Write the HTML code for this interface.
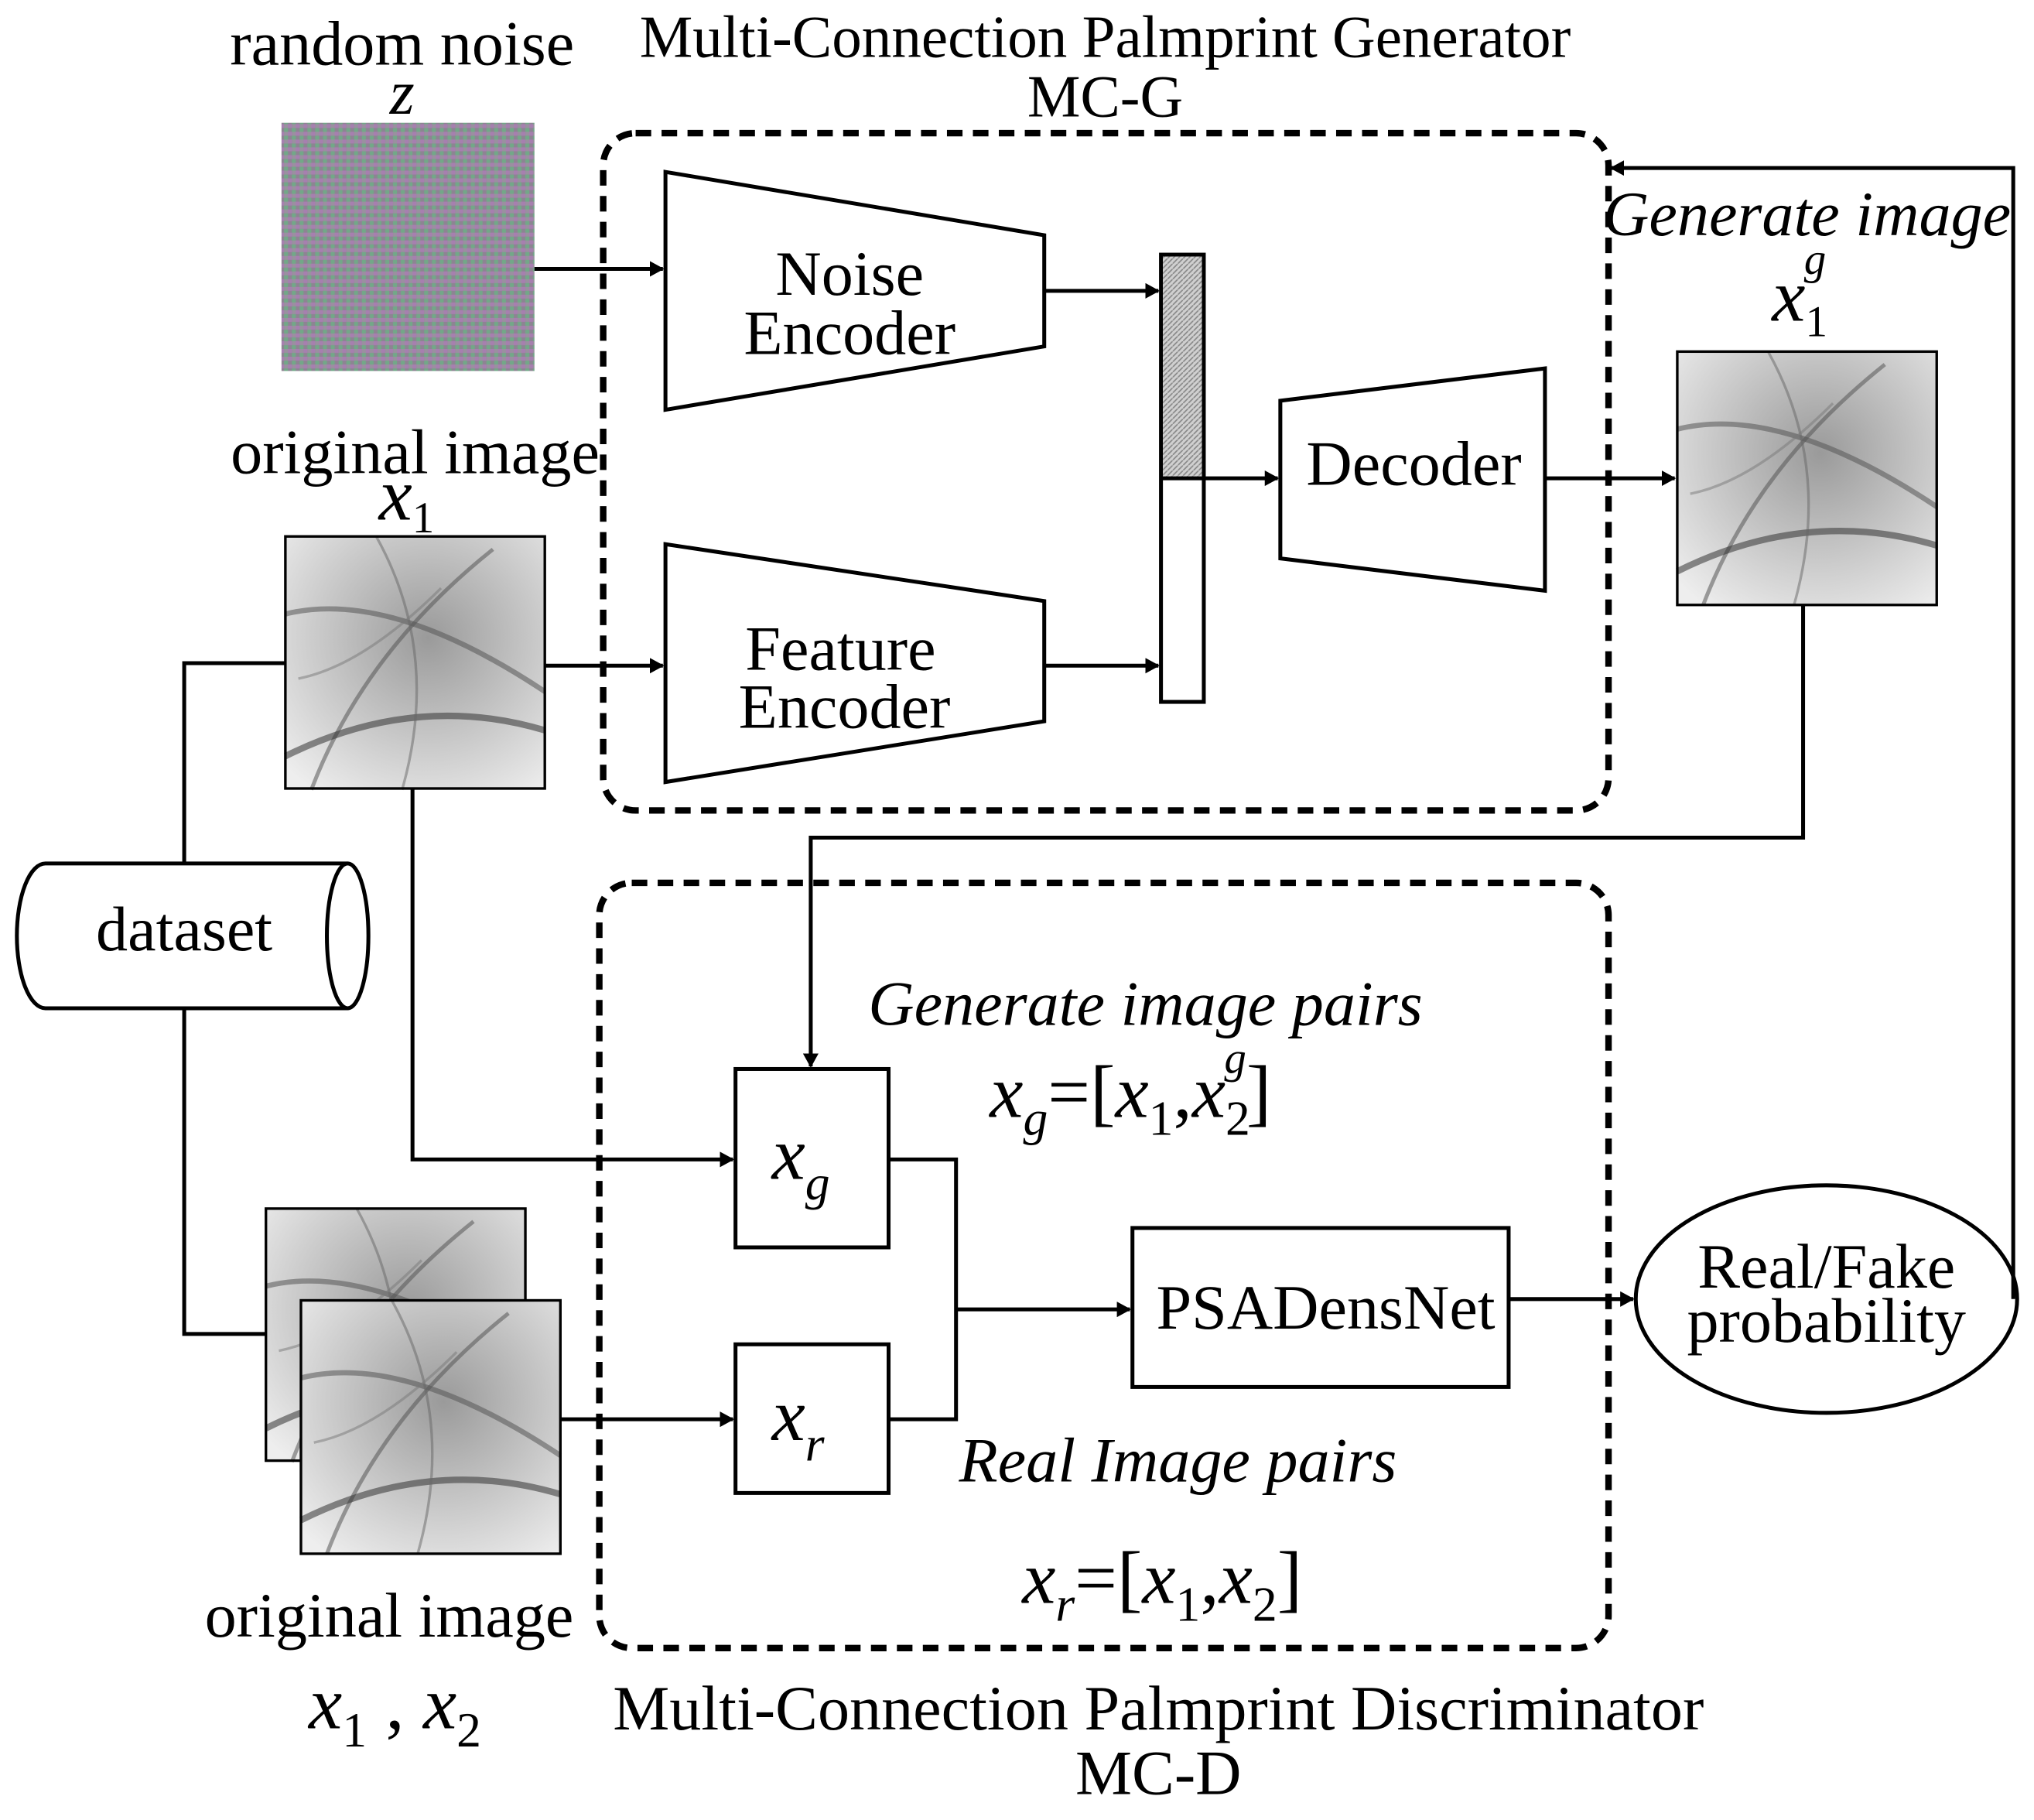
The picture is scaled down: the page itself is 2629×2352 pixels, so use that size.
<!DOCTYPE html>
<html><head><meta charset="utf-8"><style>
html,body{margin:0;padding:0;background:#fff;}
svg{display:block;}
text{font-family:"Liberation Serif",serif;fill:#000;}
</style></head><body>
<svg width="2629" height="2352" viewBox="0 0 1568 1408" preserveAspectRatio="none" xmlns="http://www.w3.org/2000/svg">
<defs>
<marker id="a" markerWidth="12" markerHeight="12" refX="10" refY="6" orient="auto" markerUnits="userSpaceOnUse"><path d="M0,0 L11,6 L0,12 Z" fill="#000"/></marker>
<pattern id="noise" width="6" height="6" patternUnits="userSpaceOnUse">
<rect width="6" height="6" fill="#8c8592"/><rect width="3" height="3" fill="#a77fb0"/><rect x="3" y="3" width="3" height="3" fill="#72a888"/><rect x="3" y="0" width="3" height="3" fill="#9a90a0"/>
</pattern>
<pattern id="hatch" width="4" height="4" patternUnits="userSpaceOnUse"><rect width="4" height="4" fill="#d0d0d0"/><path d="M0,4 L4,0" stroke="#888" stroke-width="1"/></pattern>
<radialGradient id="palm" cx="55%" cy="40%" r="75%"><stop offset="0" stop-color="#9a9a9a"/><stop offset="0.5" stop-color="#c4c4c4"/><stop offset="1" stop-color="#eeeeee"/></radialGradient>
<g id="palmimg">
<rect width="200" height="196" fill="url(#palm)"/>
<path d="M0,60 Q80,40 200,120" stroke="#555" stroke-width="4" fill="none" opacity=".55"/>
<path d="M20,196 Q60,90 160,10" stroke="#555" stroke-width="3" fill="none" opacity=".55"/>
<path d="M0,170 Q100,120 200,150" stroke="#333" stroke-width="5" fill="none" opacity=".55"/>
<path d="M70,0 Q120,90 90,196" stroke="#666" stroke-width="2" fill="none" opacity=".5"/>
<path d="M10,110 Q60,100 120,40" stroke="#777" stroke-width="2" fill="none" opacity=".5"/>
</g>
</defs>
<rect x="217" y="95" width="195" height="192" fill="url(#noise)"/>
<rect x="465" y="103" width="775" height="524" rx="25" fill="none" stroke="#000" stroke-width="5" stroke-dasharray="12,8"/>
<rect x="462" y="683" width="778" height="592" rx="25" fill="none" stroke="#000" stroke-width="5" stroke-dasharray="12,8"/>
<g fill="#fff" stroke="#000" stroke-width="3">
<polygon points="513,133 805,182 805,268 513,317"/>
<polygon points="513,421 805,465 805,558 513,605"/>
<polygon points="987,310 1191,285 1191,457 987,432"/>
<rect x="895" y="197" width="33" height="346"/>
<rect x="567" y="827" width="118" height="138"/>
<rect x="567" y="1040" width="118" height="115"/>
<rect x="873" y="950" width="290" height="123"/>
<ellipse cx="1408" cy="1005" rx="147" ry="88"/>
</g>
<rect x="896.5" y="198.5" width="30" height="171" fill="url(#hatch)"/>
<line x1="895" y1="370" x2="928" y2="370" stroke="#000" stroke-width="3"/>
<use href="#palmimg" x="220" y="415"/><rect x="220" y="415" width="200" height="195" fill="none" stroke="#000" stroke-width="2"/>
<use href="#palmimg" x="1293" y="272"/><rect x="1293" y="272" width="200" height="196" fill="none" stroke="#000" stroke-width="2"/>
<use href="#palmimg" x="205" y="935"/><rect x="205" y="935" width="200" height="195" fill="none" stroke="#000" stroke-width="2"/>
<use href="#palmimg" x="232" y="1006"/><rect x="232" y="1006" width="200" height="196" fill="none" stroke="#000" stroke-width="2"/>
<path d="M35,668 L268,668 A16,56 0 0 1 268,780 L35,780 A22,56 0 0 1 35,668 Z" fill="#fff" stroke="#000" stroke-width="3"/>
<path d="M268,668 A16,56 0 0 0 268,780" fill="none" stroke="#000" stroke-width="3"/>
<g font-size="49" text-anchor="middle">
<text x="310" y="50">random noise</text>
<text x="310" y="88" font-style="italic">z</text>
<text x="852" y="44" font-size="46">Multi-Connection Palmprint Generator</text>
<text x="852" y="90" font-size="46">MC-G</text>
<text x="655" y="228">Noise</text><text x="655" y="274">Encoder</text>
<text x="648" y="518">Feature</text><text x="651" y="563">Encoder</text>
<text x="1090" y="375">Decoder</text>
<text x="1022" y="1028">PSADensNet</text>
<text x="1408" y="996">Real/Fake</text><text x="1408" y="1038">probability</text>
<text x="142" y="735">dataset</text>
<text x="320" y="366">original image</text>
<text x="300" y="1266">original image</text>
<text x="893" y="1338">Multi-Connection Palmprint Discriminator</text>
<text x="893" y="1388">MC-D</text>
</g>
<g font-style="italic" font-size="49" text-anchor="middle">
<text x="1393" y="182">Generate image</text>
<text x="883" y="793">Generate image pairs</text>
<text x="908" y="1146">Real Image pairs</text>
</g>
<g font-style="italic" font-size="58">
<text x="292" y="402">x<tspan font-size="34" font-style="normal" dy="10">1</tspan></text>
<text x="1366" y="248">x<tspan font-size="34" dy="12" font-style="normal">1</tspan><tspan font-size="34" dx="-18" dy="-48">g</tspan></text>
<text x="595" y="912">x<tspan font-size="38" dy="16">g</tspan></text>
<text x="595" y="1114">x<tspan font-size="38" dy="16">r</tspan></text>
<text x="763" y="864">x<tspan font-size="38" dy="14">g</tspan><tspan dy="-14" font-style="normal">=[</tspan>x<tspan font-size="38" dy="14" font-style="normal">1</tspan><tspan dy="-14" font-style="normal">,</tspan>x<tspan font-size="38" dy="14" font-style="normal">2</tspan><tspan font-size="34" dx="-20" dy="-48">g</tspan><tspan dy="34" font-style="normal">]</tspan></text>
<text x="788" y="1240">x<tspan font-size="38" dy="14">r</tspan><tspan dy="-14" font-style="normal">=[</tspan>x<tspan font-size="38" dy="14" font-style="normal">1</tspan><tspan dy="-14" font-style="normal">,</tspan>x<tspan font-size="38" dy="14" font-style="normal">2</tspan><tspan dy="-14" font-style="normal">]</tspan></text>
<text x="238" y="1337">x<tspan font-size="38" dy="14" font-style="normal">1</tspan><tspan dy="-14" font-style="normal"> , </tspan>x<tspan font-size="38" dy="14" font-style="normal">2</tspan></text>
</g>
<g stroke="#000" stroke-width="3" fill="none">
<line x1="412" y1="208" x2="511" y2="208" marker-end="url(#a)"/>
<line x1="805" y1="225" x2="893" y2="225" marker-end="url(#a)"/>
<line x1="805" y1="515" x2="893" y2="515" marker-end="url(#a)"/>
<line x1="420" y1="515" x2="511" y2="515" marker-end="url(#a)"/>
<line x1="928" y1="370" x2="985" y2="370" marker-end="url(#a)"/>
<line x1="1191" y1="370" x2="1291" y2="370" marker-end="url(#a)"/>
<polyline points="1552,1005 1552,130 1242,130" marker-end="url(#a)"/>
<polyline points="142,668 142,513 220,513"/>
<polyline points="142,780 142,1032 205,1032"/>
<polyline points="318,610 318,897 565,897" marker-end="url(#a)"/>
<polyline points="1390,468 1390,648 625,648 625,825" marker-end="url(#a)"/>
<line x1="432" y1="1098" x2="565" y2="1098" marker-end="url(#a)"/>
<polyline points="685,897 737,897 737,1098 685,1098"/>
<line x1="737" y1="1013" x2="871" y2="1013" marker-end="url(#a)"/>
<line x1="1163" y1="1005" x2="1259" y2="1005" marker-end="url(#a)"/>
</g>
</svg>
</body></html>
